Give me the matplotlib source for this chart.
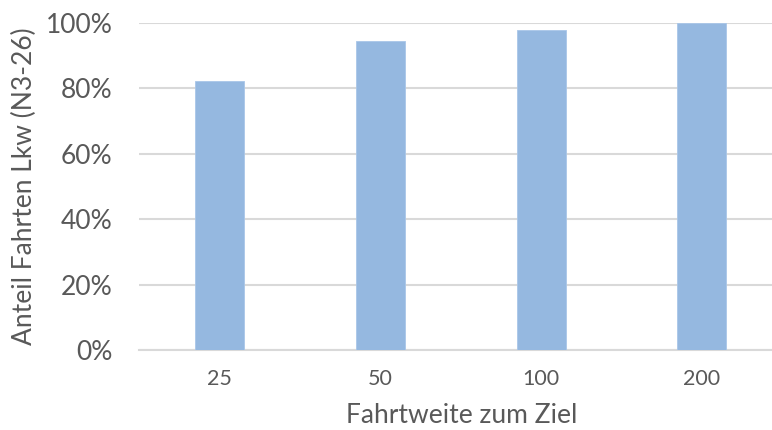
import matplotlib
matplotlib.use("Agg")
import matplotlib.pyplot as plt
from matplotlib.ticker import FuncFormatter

categories = ["25", "50", "100", "200"]
values = [0.823, 0.945, 0.979, 1.0]
yticks = [0, 0.2, 0.4, 0.6, 0.8, 1.0]

plt.rcParams['font.family'] = ['Lato', 'DejaVu Sans']
grey = '#595959'

fig = plt.figure(figsize=(7.72, 4.30), dpi=100)
ax = fig.add_axes([139/772, (430-350)/430, 1 - 139/772, (350-23)/430])

x = list(range(len(categories)))
ax.bar(x, values, width=0.305, color='#95b8e0', edgecolor='#a9c6e8', linewidth=0.6, zorder=2)

ax.set_ylim(0, 1.0)
ax.set_xlim(-0.5, 3.436)
ax.set_yticks(yticks)
ax.yaxis.set_major_formatter(FuncFormatter(lambda v, p: f"{int(round(v*100))}%"))
ax.set_xticks(x)
ax.set_xticklabels(categories)

ax.grid(axis='y', color='#d9d9d9', linewidth=1.5, zorder=0)
ax.set_axisbelow(True)
for s in ['top', 'right', 'left']:
    ax.spines[s].set_visible(False)
ax.spines['bottom'].set_color('#d9d9d9')
ax.spines['bottom'].set_linewidth(1.5)
ax.spines['bottom'].set_zorder(1)

ax.tick_params(axis='both', length=0, colors=grey)
ax.tick_params(axis='y', pad=19, labelsize=19)
ax.tick_params(axis='x', pad=14, labelsize=15.5)

ax.set_xlabel("Fahrtweite zum Ziel", color=grey, fontsize=19)
ax.xaxis.set_label_coords(0.509, -0.163)
ax.set_ylabel("Anteil Fahrten Lkw (N3-26)", color=grey, fontsize=19, labelpad=6)

fig.savefig("out.png", dpi=100)
